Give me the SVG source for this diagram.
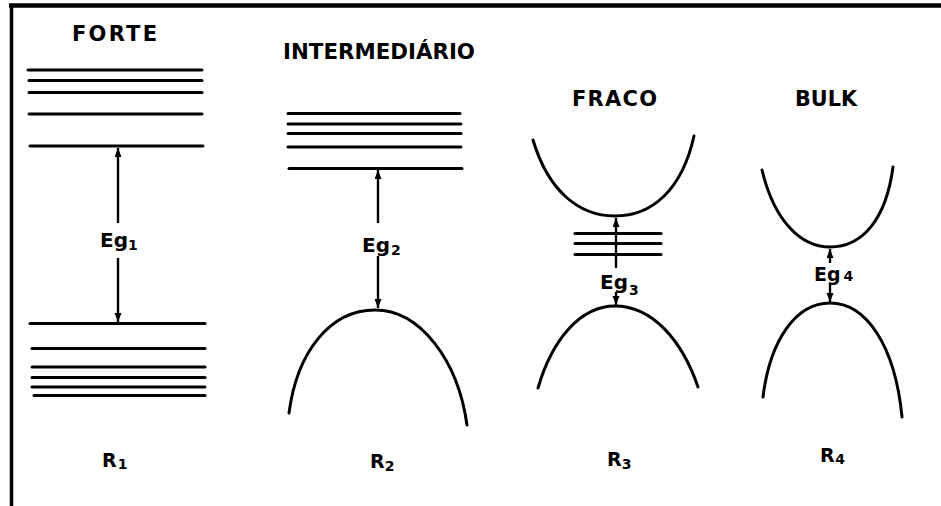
<svg xmlns="http://www.w3.org/2000/svg" width="941" height="506" viewBox="0 0 941 506">
<style>
.ln{stroke:#000;stroke-width:3;fill:none;stroke-linecap:round}
.cv{stroke:#000;stroke-width:3;fill:none;stroke-linecap:round}
.ar{stroke:#000;stroke-width:2.4;fill:none}
.t{font-family:"DejaVu Sans","Liberation Sans",Arial,sans-serif;font-weight:bold;fill:#000}
.h{font-size:21px}
.eg{font-size:20px}
.r{font-size:19px}
.sub{font-size:14px}
</style>
<defs>
<marker id="ah" markerUnits="userSpaceOnUse" markerWidth="10" markerHeight="10" refX="9" refY="3.5" orient="auto">
<path d="M0,0 L9,3.5 L0,7 Z" fill="#000"/>
</marker>
</defs>
<rect width="941" height="506" fill="#fff"/>
<g id="frame">
<line x1="9" y1="5.5" x2="941" y2="5.5" stroke="#000" stroke-width="4.5"/>
<line x1="11.5" y1="4" x2="11.5" y2="506" stroke="#000" stroke-width="3.5"/>
</g>
<g id="forte">
<text class="t h" x="72" y="41" textLength="85" lengthAdjust="spacing">FORTE</text>
<line class="ln" x1="28" y1="70" x2="202" y2="70"/>
<line class="ln" x1="29" y1="80.5" x2="202" y2="80.5"/>
<line class="ln" x1="29" y1="92.5" x2="202" y2="92.5"/>
<line class="ln" x1="29" y1="114" x2="202" y2="114"/>
<line class="ln" x1="30" y1="146" x2="203" y2="146"/>
<line class="ln" x1="30" y1="323.5" x2="205" y2="323.5"/>
<line class="ln" x1="32" y1="348.5" x2="205" y2="348.5"/>
<line class="ln" x1="32" y1="367" x2="205" y2="367"/>
<line class="ln" x1="32" y1="377.5" x2="205" y2="377.5"/>
<line class="ln" x1="32" y1="387" x2="205" y2="387"/>
<line class="ln" x1="34" y1="395.5" x2="205" y2="395.5"/>
<text class="t eg" x="100" y="247">Eg<tspan class="sub" dx="0" dy="3">1</tspan></text>
<text class="t r" x="102" y="467">R<tspan class="sub" dx="1" dy="2">1</tspan></text>
</g>
<g id="intermediario">
<text class="t h" x="283" y="59" textLength="192" lengthAdjust="spacingAndGlyphs">INTERMEDIÁRIO</text>
<line class="ln" x1="288" y1="113.5" x2="460" y2="113.5"/>
<line class="ln" x1="288" y1="124" x2="461" y2="124"/>
<line class="ln" x1="288" y1="133.5" x2="461" y2="133.5"/>
<line class="ln" x1="288" y1="147" x2="461" y2="147"/>
<line class="ln" x1="289" y1="168.5" x2="462" y2="168.5"/>
<path class="cv" d="M289,413 C297,352 330,310 375,310 C420,310 458,360 467,425"/>
<text class="t eg" x="362" y="252">Eg<tspan class="sub" dx="1" dy="3">2</tspan></text>
<text class="t r" x="370" y="468">R<tspan class="sub" dx="0" dy="3">2</tspan></text>
</g>
<g id="fraco">
<text class="t h" x="572" y="106" textLength="85" lengthAdjust="spacing">FRACO</text>
<path class="cv" d="M533,140 C548,190 578,216 615,216 C652,216 682,190 694,136"/>
<line class="ln" x1="575" y1="233.5" x2="661" y2="233.5"/>
<line class="ln" x1="575" y1="243.5" x2="661" y2="243.5"/>
<line class="ln" x1="575" y1="254.5" x2="661" y2="254.5"/>
<path class="cv" d="M538,388 C552,340 580,306 615,306 C652,306 682,340 698,387"/>
<text class="t eg" x="600" y="289">Eg<tspan class="sub" dx="1" dy="6">3</tspan></text>
<text class="t r" x="607" y="466">R<tspan class="sub" dx="0" dy="3">3</tspan></text>
</g>
<g id="bulk">
<text class="t h" x="795" y="106" textLength="62" lengthAdjust="spacingAndGlyphs">BULK</text>
<path class="cv" d="M762,170 C774,220 800,247 830,247 C862,247 886,220 893,167"/>
<path class="cv" d="M763,397 C770,340 796,303 830,303 C866,303 895,345 902,417"/>
<text class="t" style="font-size:19px" x="814" y="281">Eg<tspan class="sub" dx="3">4</tspan></text>
<text class="t r" x="820" y="462">R<tspan class="sub" dx="0.5" dy="2">4</tspan></text>
</g>
<g id="connectors">
<line class="ar" x1="118" y1="223" x2="118" y2="148" marker-end="url(#ah)"/>
<line class="ar" x1="118" y1="258" x2="118" y2="322" marker-end="url(#ah)"/>
<line class="ar" x1="378" y1="223" x2="378" y2="170" marker-end="url(#ah)"/>
<line class="ar" x1="378" y1="256" x2="378" y2="308" marker-end="url(#ah)"/>
<line class="ar" x1="616" y1="268" x2="616" y2="218" marker-end="url(#ah)"/>
<line class="ar" x1="616" y1="292" x2="616" y2="305" marker-end="url(#ah)"/>
<line class="ar" x1="830" y1="263" x2="830" y2="249" marker-end="url(#ah)"/>
<line class="ar" x1="830" y1="283" x2="830" y2="302" marker-end="url(#ah)"/>
</g>
</svg>
